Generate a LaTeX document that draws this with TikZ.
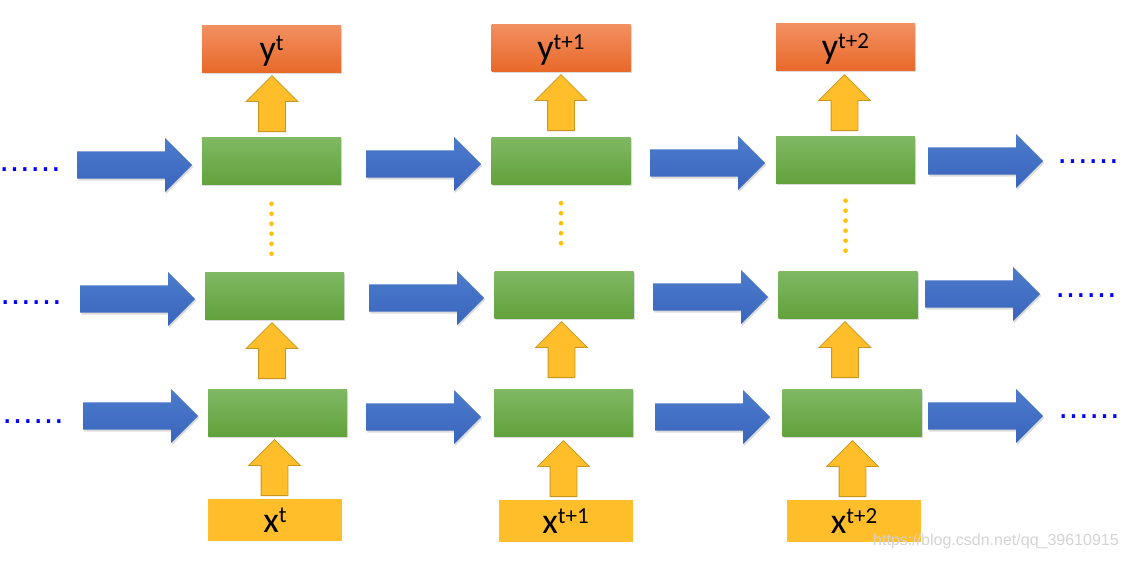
\documentclass[tikz,border=0pt]{standalone}
\usepackage{fontspec}
\setmainfont{Carlito}
\newfontfamily\dotfont{DejaVu Sans}
\newfontfamily\wmfont{Liberation Sans}
\usetikzlibrary{shapes.arrows,shadows}

\definecolor{blueA}{HTML}{4C7CCC}
\definecolor{blueB}{HTML}{3A64BC}
\definecolor{grnA}{HTML}{80B864}
\definecolor{grnB}{HTML}{62A23C}
\definecolor{orgA}{HTML}{F29062}
\definecolor{orgB}{HTML}{E8692A}
\definecolor{gold}{HTML}{FFBE2A}
\definecolor{goldline}{HTML}{C8961E}
\definecolor{dotgold}{HTML}{FFC000}
\definecolor{wmgray}{HTML}{D4D4D4}

\newcommand{\seqlbl}[2]{\fontsize{36}{40}\selectfont #1\raisebox{10pt}{\fontsize{23}{26}\selectfont #2}}

\begin{document}
\begin{tikzpicture}[x=1pt,y=-1pt,
  shade/.style={drop shadow={opacity=0.28, shadow xshift=1.2pt, shadow yshift=-1.8pt}},
  cell/.style={rectangle, inner sep=0pt, minimum width=139pt, minimum height=47pt,
    top color=grnA, bottom color=grnB, shade},
  outbox/.style={cell, top color=orgA, bottom color=orgB, text height=23pt, text depth=0pt},
  inbox/.style={rectangle, inner sep=0pt, minimum width=134pt, minimum height=42pt,
    fill=gold, text height=24pt, text depth=0pt},
  flow/.style={single arrow, anchor=tail, single arrow head extend=13.5pt, inner xsep=0pt, inner ysep=13.5pt,
    text height=0pt, text depth=0pt, minimum height=115pt, top color=blueA, bottom color=blueB, shade},
  lift/.style={single arrow, shape border rotate=90, anchor=tail, single arrow head extend=12.5pt,
    inner xsep=13pt, inner ysep=0pt, text height=0pt, text depth=0pt, minimum height=56pt,
    fill=gold, draw=goldline, line width=0.8pt},
  hdots/.style={font=\dotfont\fontsize{31}{32}\selectfont, text=blue, inner sep=0pt, anchor=base west},
  vdots/.style={draw=dotgold, line width=4.6pt, line cap=round, dash pattern=on 0pt off 10pt},
]
\path[use as bounding box, fill=white] (0,0) rectangle (1127,560);

% output boxes
\node[outbox] (y1) at (271.5,48.5) {\seqlbl{y}{t}};
\node[outbox] (y2) at (561,47.5) {\seqlbl{y}{t+1}};
\node[outbox] (y3) at (845.5,47) {\seqlbl{y}{t+2}};

% hidden cells
\node[cell] (a1) at (271.5,161) {};
\node[cell] (a2) at (561,160.5) {};
\node[cell] (a3) at (845.5,160) {};
\node[cell] (b1) at (274.5,295.5) {};
\node[cell] (b2) at (564,294.5) {};
\node[cell] (b3) at (848,294.5) {};
\node[cell] (c1) at (277.5,412.5) {};
\node[cell] (c2) at (563.5,412.5) {};
\node[cell] (c3) at (852,412.5) {};

% input boxes
\node[inbox] (x1) at (275,520) {\seqlbl{x}{t}};
\node[inbox] (x2) at (565.5,521) {\seqlbl{x}{t+1}};
\node[inbox] (x3) at (854,521) {\seqlbl{x}{t+2}};

% upward arrows (anchored at their tails)
\node[lift] (u1) at (272,132) {};
\node[lift] (u2) at (561,131) {};
\node[lift] (u3) at (844.5,131) {};
\node[lift] (m1) at (272,379) {};
\node[lift] (m2) at (561.5,378) {};
\node[lift] (m3) at (845,378) {};
\node[lift] (l1) at (274.5,496) {};
\node[lift] (l2) at (563.5,497) {};
\node[lift] (l3) at (852.5,497) {};

% horizontal arrows (anchored at their tails)
\node[flow] (fa0) at (77,165) {};
\node[flow] (fa1) at (366,164) {};
\node[flow] (fa2) at (650,163) {};
\node[flow] (fa3) at (928,161) {};
\node[flow] (fb0) at (80,299) {};
\node[flow] (fb1) at (369,298) {};
\node[flow] (fb2) at (653,297) {};
\node[flow] (fb3) at (925,294) {};
\node[flow] (fc0) at (83,416) {};
\node[flow] (fc1) at (366,417) {};
\node[flow] (fc2) at (655,417) {};
\node[flow] (fc3) at (928,416) {};

% continuation dots
\node[hdots] (da0) at (-0.4,171.2) {……};
\node[hdots] (da4) at (1057.5,163.2) {……};
\node[hdots] (db0) at (0,304.2) {……};
\node[hdots] (db4) at (1055,297.2) {……};
\node[hdots] (dc0) at (2.5,423.2) {……};
\node[hdots] (dc4) at (1058,418.2) {……};

% vertical dots between layers
\draw[vdots, shorten <=19pt, shorten >=18pt] (a1.south) -- (a1.south |- b1.north);
\draw[vdots, shorten <=19pt, shorten >=18pt] (a2.south) -- (a2.south |- b2.north);
\draw[vdots, shorten <=17pt, shorten >=18pt] (a3.south) -- (a3.south |- b3.north);

% watermark
\node[anchor=west, inner sep=0pt, text=wmgray, font=\wmfont\fontsize{16}{18}\selectfont] (wm) at (873,541) {https://blog.csdn.net/qq\_39610915};
\end{tikzpicture}
\end{document}
